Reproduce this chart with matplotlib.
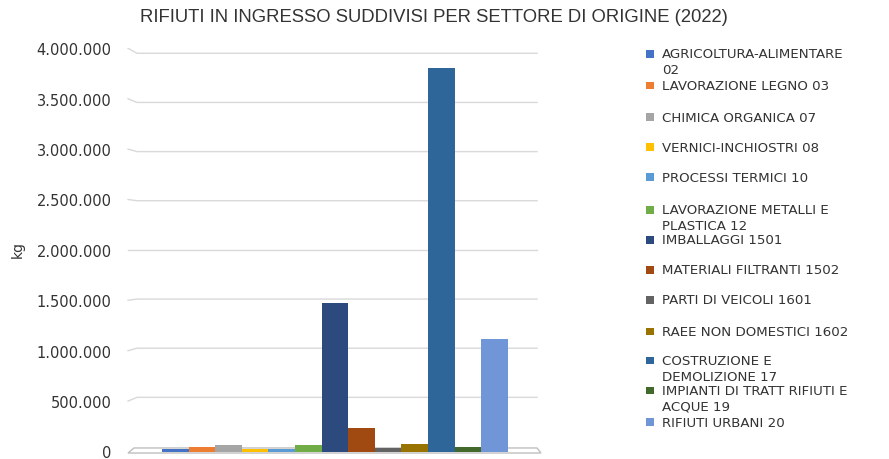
import matplotlib
matplotlib.use("Agg")
import matplotlib.pyplot as plt
from matplotlib.patches import Polygon, Rectangle
from matplotlib.ticker import FuncFormatter
import numpy as np

settori = [
    "AGRICOLTURA-ALIMENTARE\n02",
    "LAVORAZIONE LEGNO 03",
    "CHIMICA ORGANICA 07",
    "VERNICI-INCHIOSTRI 08",
    "PROCESSI TERMICI 10",
    "LAVORAZIONE METALLI E\nPLASTICA 12",
    "IMBALLAGGI 1501",
    "MATERIALI FILTRANTI 1502",
    "PARTI DI VEICOLI 1601",
    "RAEE NON DOMESTICI 1602",
    "COSTRUZIONE E\nDEMOLIZIONE 17",
    "IMPIANTI DI TRATT RIFIUTI E\nACQUE 19",
    "RIFIUTI URBANI 20",
]
kg = [28000, 48000, 64000, 25000, 25000, 62000, 1475000,
      230000, 38000, 71000, 3800000, 48000, 1115000]
colori = ["#4472C4", "#ED7D31", "#A5A5A5", "#FFC000", "#5B9BD5", "#70AD47",
          "#2C4A7E", "#A04A12", "#636363", "#997300", "#2E6699", "#43682B",
          "#7096D8"]
yticks = [0, 500000, 1000000, 1500000, 2000000, 2500000, 3000000,
          3500000, 4000000]

W, H = 889, 460
fig = plt.figure(figsize=(W / 100, H / 100), dpi=100)

# axes: 0 kg at y=452.5px, 4M at y=49.3px ; x from 120px to 540px
ax = fig.add_axes([120 / W, (H - 452.5) / H, 420 / W, (452.5 - 49.3) / H])
ax.set_ylim(0, 4e6)
px_unit = 26.6  # one bar width in pixels
xl = -0.5 - 42 / px_unit
ax.set_xlim(xl, xl + 420 / px_unit)
kg_px = 4e6 / (452.5 - 49.3)


def xpx(p):
    return xl + (p - 120) / px_unit


# wall gridlines with a little perspective
for v in yticks[1:]:
    d = -5 + 10 * v / 4e6
    back = v - d * kg_px
    ax.plot([xpx(128), xpx(137), xpx(537)], [v, back, back],
            color="#D9D9D9", lw=1, zorder=1, solid_joinstyle="miter")

# floor
floor = Polygon([(xpx(128), -15000), (xpx(134), 35000), (xpx(537), 35000),
                 (xpx(541), -15000)], closed=True, facecolor="white",
                edgecolor="#BFBFBF", lw=1, clip_on=False, zorder=1)
ax.add_patch(floor)

ax.bar(np.arange(len(kg)), kg, width=1, color=colori, zorder=2, clip_on=False)

for s in ax.spines.values():
    s.set_visible(False)
ax.set_xticks([])
ax.set_yticks(yticks)
ax.yaxis.set_major_formatter(FuncFormatter(lambda v, p: f"{int(v):,}".replace(",", ".")))
ax.tick_params(axis="y", length=0, pad=6, labelsize=10.5, labelcolor="#333333")
for t in ax.get_yticklabels():
    t.set_fontfamily("DejaVu Sans")

fig.text(18 / W, 1 - 250 / H, "kg", rotation=90, ha="center", va="center",
         fontsize=10, color="#333333", family="DejaVu Sans")

fig.text(434 / W, 1 - 17 / H,
         "RIFIUTI IN INGRESSO SUDDIVISI PER SETTORE DI ORIGINE (2022)",
         ha="center", va="center", fontsize=13.3, color="#333333",
         family=["Liberation Sans Narrow", "Liberation Sans"])

# legend
leg_y = [55, 86.7, 118.3, 148.3, 178.3, 211, 241, 271, 301, 332.7, 361.7,
         391.7, 423.3]
for lab, col, y in zip(settori, colori, leg_y):
    fig.add_artist(Rectangle((646 / W, 1 - (y + 3.5) / H), 7.5 / W, 7.5 / H,
                             transform=fig.transFigure, facecolor=col,
                             edgecolor="none"))
    for k, riga in enumerate(lab.split("\n")):
        fig.text(662 / W, 1 - (y + 15.5 * k) / H, riga, ha="left",
                 va="center", fontsize=9.6, color="#333333",
                 family="DejaVu Sans")

fig.savefig("out.png", dpi=100)
